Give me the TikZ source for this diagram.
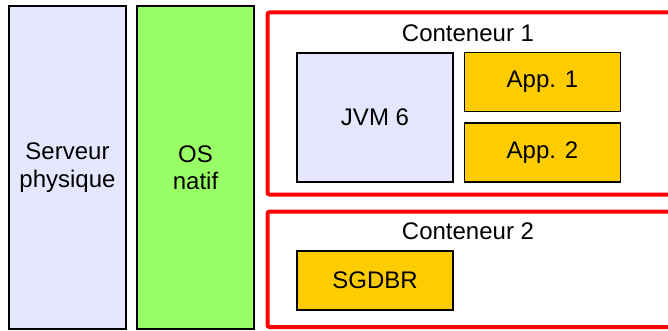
\documentclass[tikz,border=0pt]{standalone}
\usepackage{fontspec}
\setmainfont{Liberation Sans}
\definecolor{lavender}{HTML}{E6E6FF}
\definecolor{lime}{HTML}{99FF66}
\definecolor{gold}{HTML}{FFCC00}
\definecolor{redline}{HTML}{FF0000}
\begin{document}
\begin{tikzpicture}[x=1pt,y=-1pt,
  lbl/.style={font=\fontsize{24}{27.5}\selectfont, align=center, inner sep=0pt},
  block/.style={draw=black, line width=1.5pt, lbl},
  layer/.style={block, minimum width=117pt, minimum height=323pt},
  part/.style={block, minimum width=156pt, minimum height=59pt},
  container/.style={draw=redline, line width=4pt, rounded corners=2pt, inner sep=0pt}
]
\useasboundingbox (0,0) rectangle (668,331);
\clip (0,0) rectangle (668,331);

% host layers
\node[layer, fill=lavender] (srv) at (67.5,167.5) {Serveur\\physique};
\node[layer, fill=lime] (os) at (195.5,167.5) {OS\\natif};

% container frames, running past the right edge
\node[container, minimum width=440pt, minimum height=182pt, anchor=north west] (c1) at (265.5,10.5) {};
\node[container, minimum width=440pt, minimum height=115.5pt, anchor=north west] (c2) at (265.5,209.5) {};

% container 1 contents
\node[lbl] (t1) at (468,33) {Conteneur 1};
\node[block, fill=lavender, minimum width=156pt, minimum height=129pt] (jvm) at (375,117.5) {JVM 6};
\node[part, fill=gold] (app1) at (542.5,82.2) {App. 1};
\node[part, fill=gold] (app2) at (542.5,152.5) {App. 2};

% container 2 contents
\node[lbl] (t2) at (468,231) {Conteneur 2};
\node[part, fill=gold] (db) at (375,280.5) {SGDBR};
\end{tikzpicture}
\end{document}
